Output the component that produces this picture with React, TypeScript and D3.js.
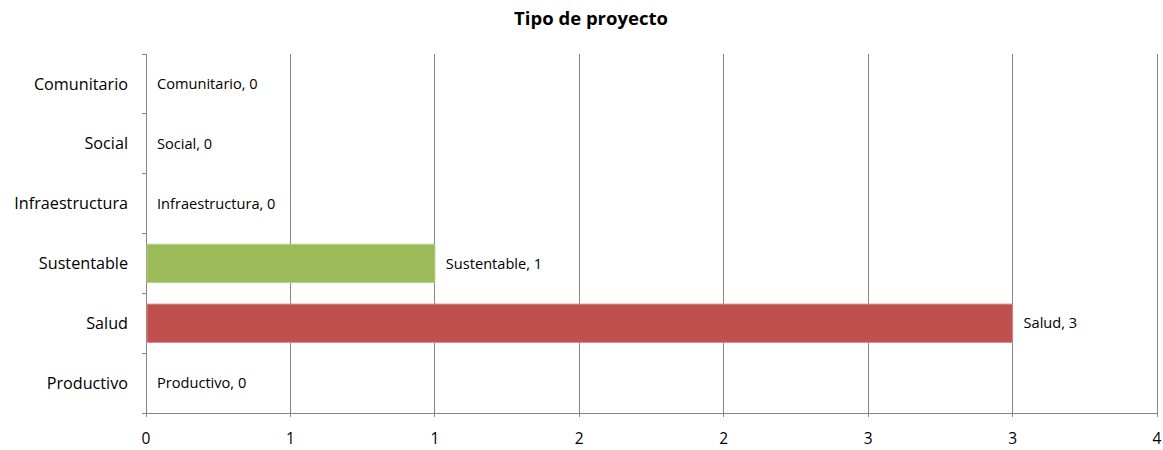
import React, { useEffect, useRef } from "react";
import * as d3 from "d3";

const categories = ["Comunitario", "Social", "Infraestructura", "Sustentable", "Salud", "Productivo"];
const values = [0, 0, 0, 1, 3, 0];
const barColors = ["#4F81BD", "#4F81BD", "#4F81BD", "#9BBB59", "#C0504D", "#4F81BD"];
const borderColors = ["#7FA2D0", "#7FA2D0", "#7FA2D0", "#B7D08A", "#D58582", "#7FA2D0"];
const xTicks = [0, 0.5, 1, 1.5, 2, 2.5, 3, 3.5];
const xTickLabels = ["0", "1", "1", "2", "2", "3", "3", "4"];
const title = "Tipo de proyecto";

const W = 1163;
const H = 450;
const M = { left: 146, right: 6, top: 54, bottom: 37 };
const FONT = "'Open Sans', Lato, sans-serif";

export default function App() {
  const ref = useRef<SVGSVGElement>(null);
  useEffect(() => {
    const svg = d3.select(ref.current);
    svg.selectAll("*").remove();
    const x = d3.scaleLinear().domain([0, 3.5]).range([M.left, W - M.right]);
    const y = d3.scaleBand().domain(categories).range([M.top, H - M.bottom]).paddingInner(0.36).paddingOuter(0.18);
    const yb = d3.scaleBand().domain(categories).range([M.top, H - M.bottom]);
    const gridColor = "#868686";

    svg.append("text").attr("x", 591).attr("y", 25).attr("text-anchor", "middle")
      .attr("font-family", FONT).attr("font-weight", "bold").attr("font-size", 18.5).attr("fill", "#000").text(title);

    // gridlines
    svg.append("g").selectAll("line").data(xTicks.slice(1)).join("line")
      .attr("x1", (d) => x(d)).attr("x2", (d) => x(d))
      .attr("y1", M.top).attr("y2", H - M.bottom)
      .attr("stroke", gridColor).attr("stroke-width", 1).attr("shape-rendering", "crispEdges");

    // y axis line
    svg.append("line").attr("x1", M.left).attr("x2", M.left).attr("y1", M.top).attr("y2", H - M.bottom)
      .attr("stroke", gridColor).attr("shape-rendering", "crispEdges");
    // y ticks at band boundaries
    const bounds = categories.map((c) => yb(c) as number).concat([H - M.bottom]);
    svg.append("g").selectAll("line").data(bounds).join("line")
      .attr("x1", M.left - 4).attr("x2", M.left).attr("y1", (d) => d).attr("y2", (d) => d)
      .attr("stroke", gridColor).attr("shape-rendering", "crispEdges");

    // x axis line
    svg.append("line").attr("x1", M.left - 4).attr("x2", W - M.right).attr("y1", H - M.bottom).attr("y2", H - M.bottom)
      .attr("stroke", gridColor).attr("shape-rendering", "crispEdges");
    svg.append("g").selectAll("line").data(xTicks).join("line")
      .attr("x1", (d) => x(d)).attr("x2", (d) => x(d)).attr("y1", H - M.bottom).attr("y2", H - M.bottom + 4)
      .attr("stroke", gridColor).attr("shape-rendering", "crispEdges");
    svg.append("g").selectAll("text").data(xTicks).join("text")
      .attr("x", (d) => x(d)).attr("y", H - M.bottom + 31).attr("text-anchor", "middle")
      .attr("font-family", FONT).attr("font-size", 15.5).attr("fill", "#000")
      .text((_d, i) => xTickLabels[i]);

    // category labels
    svg.append("g").selectAll("text").data(categories).join("text")
      .attr("x", M.left - 18).attr("y", (d) => (yb(d) as number) + yb.bandwidth() / 2)
      .attr("dy", "0.35em").attr("text-anchor", "end")
      .attr("font-family", FONT).attr("font-size", 16.2).attr("fill", "#000").text((d) => d);

    // bars
    svg.append("g").selectAll("rect").data(categories.filter((_c, i) => values[i] > 0)).join("rect")
      .attr("x", x(0) + 1)
      .attr("y", (d) => y(d) as number)
      .attr("width", (d) => x(values[categories.indexOf(d)]) - x(0) - 1)
      .attr("height", y.bandwidth())
      .attr("fill", (d) => barColors[categories.indexOf(d)])
      .attr("stroke", (d) => borderColors[categories.indexOf(d)])
      .attr("stroke-width", 1);

    // data labels
    svg.append("g").selectAll("text").data(categories).join("text")
      .attr("x", (d) => x(values[categories.indexOf(d)]) + 11)
      .attr("y", (d) => (yb(d) as number) + yb.bandwidth() / 2)
      .attr("dy", "0.35em")
      .attr("font-family", FONT).attr("font-size", 14.6).attr("fill", "#000")
      .text((d) => `${d}, ${values[categories.indexOf(d)]}`);
  }, []);
  return <svg ref={ref} width={W} height={H} style={{ display: "block", position: "absolute", left: 0, top: 0, background: "#fff" }} />;
}
